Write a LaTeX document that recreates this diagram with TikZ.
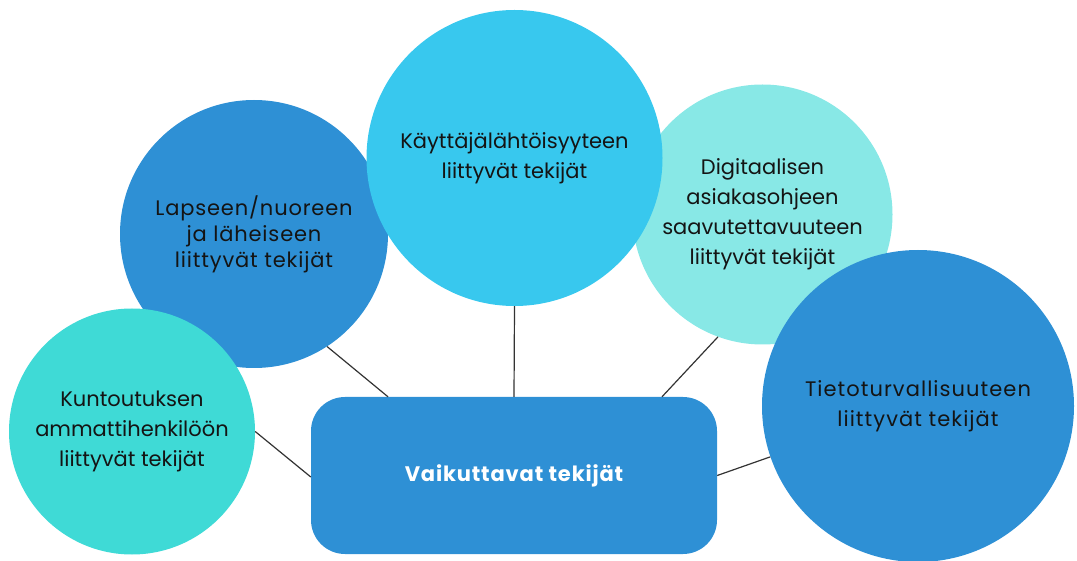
\documentclass[tikz,border=0pt]{standalone}
\usepackage{fontspec}
\setmainfont{Poppins}
\usetikzlibrary{calc}
\definecolor{cblue}{HTML}{2E90D5}
\definecolor{ccyan}{HTML}{38C8EE}
\definecolor{cteal}{HTML}{3FDAD6}
\definecolor{clight}{HTML}{88E8E6}
\definecolor{ctext}{HTML}{141414}
\definecolor{cline}{HTML}{333333}
\tikzset{
  bub/.style={circle, inner sep=0pt, align=center, text=ctext,
    font=\fontsize{21}{30}\selectfont},
  hub/.style={rectangle, rounded corners=34pt, fill=cblue, text=white,
    minimum width=406pt, minimum height=157pt, inner sep=0pt,
    font=\fontsize{21}{24}\selectfont\addfontfeature{LetterSpace=4}\bfseries},
  conn/.style={draw=cline, line width=1.2pt}
}
\begin{document}
\begin{tikzpicture}[x=1pt,y=-1pt]
\useasboundingbox (0,0) rectangle (1077,561);
\node[bub, fill=cblue, minimum size=268pt,
  font=\fontsize{21}{26}\selectfont\addfontfeature{LetterSpace=4}] (lap) at (254,234)
  {Lapseen/nuoreen\\ja läheiseen\\liittyvät tekijät};
\node[bub, fill=clight, minimum size=260pt] (dig) at (762.5,214.5)
  {Digitaalisen\\asiakasohjeen\\saavutettavuuteen\\liittyvät tekijät};
\node[bub, fill=ccyan, minimum size=296pt] (kay) at (514.5,158)
  {Käyttäjälähtöisyyteen\\liittyvät tekijät};
\node[bub, fill=cteal, minimum size=246pt] (kun) at (132,431.5)
  {Kuntoutuksen\\ammattihenkilöön\\liittyvät tekijät};
\node[bub, fill=cblue, minimum size=312pt,
  font=\fontsize{21}{30}\selectfont\addfontfeature{LetterSpace=5}] (tie) at (918,406)
  {Tietoturvallisuuteen\\liittyvät tekijät};
\node[hub] (hub) at (514,475.5) {Vaikuttavat tekijät};
\draw[conn] (lap.-57.8) -- ($(hub.north)+(-126,0)$);
\draw[conn] (kay.south) -- (hub.north);
\draw[conn] (dig.-110.7) -- ($(hub.north)+(148,0)$);
\draw[conn] (kun.east) -- ($(hub.west)+(0,1.5)$);
\draw[conn] (tie.-161.6) -- (hub.east);
\end{tikzpicture}
\end{document}
